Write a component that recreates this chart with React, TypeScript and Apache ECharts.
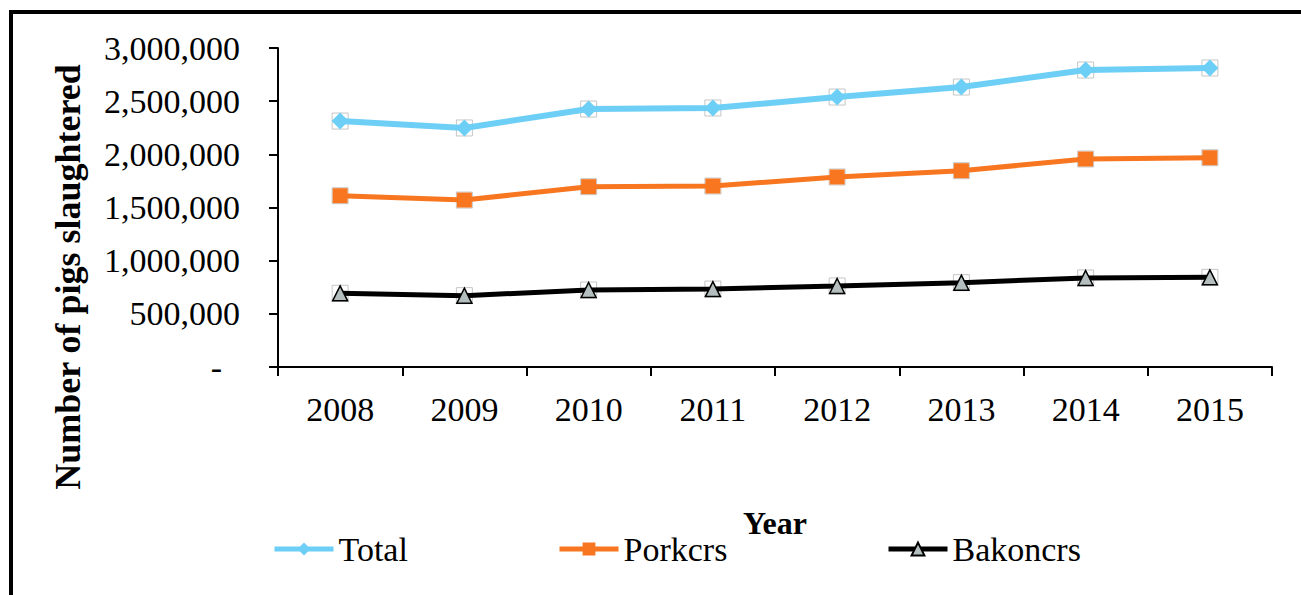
import React, { useEffect, useRef } from "react";
import * as echarts from "echarts";

const years = ["2008", "2009", "2010", "2011", "2012", "2013", "2014", "2015"];
const total = [2313000, 2248000, 2426000, 2436000, 2539000, 2633000, 2793000, 2812000];
const porkers = [1611000, 1570000, 1696000, 1702000, 1787000, 1846000, 1956000, 1968000];
const bakoners = [693000, 671000, 724000, 733000, 762000, 793000, 837000, 843000];
const seriesNames = ["Total", "Porkcrs", "Bakoncrs"];

const FONT = "'Liberation Serif', 'Times New Roman', serif";

export default function App() {
  const ref = useRef<HTMLDivElement>(null);
  useEffect(() => {
    if (!ref.current) return;
    const chart = echarts.init(ref.current, null, { renderer: "svg" });
    const fmt = (v: number) => {
      if (v === 0) return "{d|-}";
      return v.toLocaleString("en-US");
    };
    const boxSeries = (data: number[]) => ({
      type: "scatter",
      data,
      symbol: "rect",
      symbolSize: 16,
      silent: true,
      z: 1,
      itemStyle: { color: "rgba(255,255,255,0)", borderColor: "#b8b8b8", borderWidth: 1 },
    });
    const legendBase = {
      orient: "horizontal",
      top: 532,
      padding: 0,
      itemWidth: 59,
      itemHeight: 16,
      itemGap: 4,
      textStyle: { fontFamily: FONT, fontSize: 34, color: "#000" },
      selectedMode: false,
    };
    const legendItem = (name: string) => ({ name, lineStyle: { width: 5 } });
    chart.setOption({
      animation: false,
      backgroundColor: "#fff",
      grid: { left: 278, right: 29, top: 48, bottom: 228 },
      legend: [
        { ...legendBase, left: 272, data: [legendItem(seriesNames[0])], lineStyle: { width: 5 } },
        { ...legendBase, left: 557, data: [legendItem(seriesNames[1])], lineStyle: { width: 5 } },
        { ...legendBase, left: 886, data: [legendItem(seriesNames[2])], lineStyle: { width: 5 } },
      ],
      xAxis: {
        type: "category",
        data: years,
        boundaryGap: true,
        name: "Year",
        nameLocation: "middle",
        nameGap: 140,
        nameTextStyle: { fontFamily: FONT, fontSize: 32, fontWeight: "bold", color: "#000" },
        axisLine: { lineStyle: { color: "#000", width: 2 } },
        axisTick: { show: true, alignWithLabel: false, interval: 0, length: 9, lineStyle: { color: "#000", width: 2 } },
        axisLabel: { fontFamily: FONT, fontSize: 34, color: "#000", margin: 25, interval: 0 },
      },
      yAxis: {
        type: "value",
        min: 0,
        max: 3000000,
        interval: 500000,
        splitLine: { show: false },
        axisLine: { show: true, lineStyle: { color: "#000", width: 2 } },
        axisTick: { show: true, length: 9, lineStyle: { color: "#000", width: 2 } },
        axisLabel: {
          fontFamily: FONT,
          fontSize: 34,
          color: "#000",
          margin: 38,
          formatter: fmt,
          rich: { d: { fontFamily: FONT, fontSize: 34, color: "#000", padding: [0, 18, 0, 0] } },
        },
      },
      graphic: [
        { type: "line", shape: { x1: 11, y1: 12, x2: 1301, y2: 12 }, style: { stroke: "#000", lineWidth: 4 } },
        { type: "line", shape: { x1: 11, y1: 10, x2: 11, y2: 595 }, style: { stroke: "#000", lineWidth: 4 } },
        {
          type: "text",
          x: 68,
          y: 277,
          rotation: Math.PI / 2,
          style: {
            text: "Number of pigs slaughtered",
            fontFamily: FONT,
            fontSize: 36,
            fontWeight: "bold",
            fill: "#000",
            align: "center",
            verticalAlign: "middle",
          },
        },
      ],
      series: [
        boxSeries(total),
        boxSeries(porkers),
        boxSeries(bakoners),
        {
          name: seriesNames[0],
          type: "line",
          data: total,
          z: 3,
          symbol: "diamond",
          symbolSize: 17,
          lineStyle: { color: "#6DCFF6", width: 6 },
          itemStyle: { color: "#6DCFF6" },
        },
        {
          name: seriesNames[1],
          type: "line",
          data: porkers,
          z: 3,
          symbol: "rect",
          symbolSize: 15,
          lineStyle: { color: "#F7761F", width: 5 },
          itemStyle: { color: "#F7761F" },
        },
        {
          name: seriesNames[2],
          type: "line",
          data: bakoners,
          z: 3,
          symbol: "triangle",
          symbolSize: 15,
          lineStyle: { color: "#000", width: 5 },
          itemStyle: { color: "#B4BEBE", borderColor: "#000", borderWidth: 1.5 },
        },
      ],
    });
    return () => chart.dispose();
  }, []);
  return (
    <div
      ref={ref}
      style={{ position: "fixed", left: 0, top: 0, width: 1301, height: 595, background: "#fff" }}
    />
  );
}
